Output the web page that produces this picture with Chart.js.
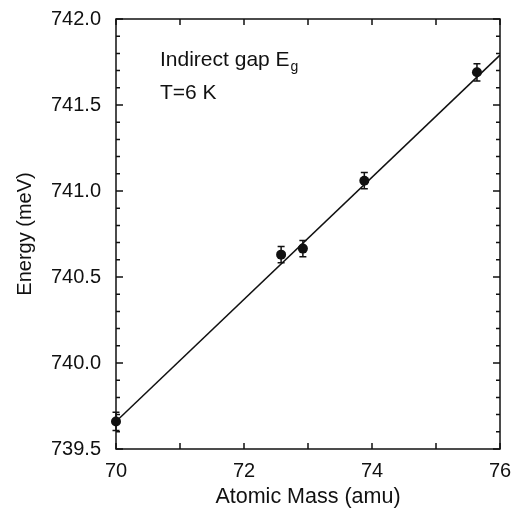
<!DOCTYPE html>
<html>
<head>
<meta charset="utf-8">
<script src="https://cdn.jsdelivr.net/npm/chart.js@4.4.0/dist/chart.umd.min.js"></script>
<style>
  html, body { margin: 0; padding: 0; background: #fff; }
  canvas { display: block; }
</style>
</head>
<body>
<canvas id="chart" width="514" height="508"></canvas>
<script>
// measured band-gap energies vs. isotope mass
var masses = [70.0, 72.58, 72.92, 73.88, 75.64];
var energies = [739.66, 740.63, 740.665, 741.06, 741.69];
var errors = [0.053, 0.047, 0.047, 0.047, 0.05];

// linear fit through the points
var fitMass = [70, 76];
var fitEnergy = [739.66, 741.79];

// axes
var xTicks = [70, 72, 74, 76];
var xMinor = [71, 73, 75];
var yTicks = [739.5, 740.0, 740.5, 741.0, 741.5, 742.0];
var yMinor = [739.6, 739.7, 739.8, 739.9, 740.1, 740.2, 740.3, 740.4,
              740.6, 740.7, 740.8, 740.9, 741.1, 741.2, 741.3, 741.4,
              741.6, 741.7, 741.8, 741.9];

var FONT = "'Liberation Sans', Arial, Helvetica, sans-serif";

function toPoints(xs, ys) {
    return xs.map(function (x, i) { return { x: x, y: ys[i] }; });
}

// frame with inward ticks on all four sides
var framePlugin = {
    id: "frame",
    afterDraw: function (chart) {
        var ctx = chart.ctx, a = chart.chartArea;
        var xs = chart.scales.x, ys = chart.scales.y;
        ctx.save();
        ctx.strokeStyle = "#111";
        ctx.lineWidth = 1.5;
        ctx.strokeRect(a.left, a.top, a.right - a.left, a.bottom - a.top);

        ctx.beginPath();
        function xTick(v, len) {
            var px = xs.getPixelForValue(v);
            ctx.moveTo(px, a.bottom); ctx.lineTo(px, a.bottom - len);
            ctx.moveTo(px, a.top); ctx.lineTo(px, a.top + len);
        }
        function yTick(v, len) {
            var py = ys.getPixelForValue(v);
            ctx.moveTo(a.left, py); ctx.lineTo(a.left + len, py);
            ctx.moveTo(a.right, py); ctx.lineTo(a.right - len, py);
        }
        xTicks.forEach(function (v) { xTick(v, 6); });
        xMinor.forEach(function (v) { xTick(v, 6); });
        yTicks.forEach(function (v) { yTick(v, 7); });
        yMinor.forEach(function (v) { yTick(v, 4); });
        ctx.stroke();
        ctx.restore();
    }
};

// vertical error bars with short caps
var errorBarPlugin = {
    id: "errorBars",
    afterDatasetsDraw: function (chart) {
        var ctx = chart.ctx;
        var xs = chart.scales.x, ys = chart.scales.y;
        ctx.save();
        ctx.strokeStyle = "#111";
        ctx.lineWidth = 1.5;
        ctx.beginPath();
        masses.forEach(function (m, i) {
            var px = xs.getPixelForValue(m);
            var lo = ys.getPixelForValue(energies[i] - errors[i]);
            var hi = ys.getPixelForValue(energies[i] + errors[i]);
            ctx.moveTo(px, lo); ctx.lineTo(px, hi);
            ctx.moveTo(px - 3.5, lo); ctx.lineTo(px + 3.5, lo);
            ctx.moveTo(px - 3.5, hi); ctx.lineTo(px + 3.5, hi);
        });
        ctx.stroke();
        ctx.restore();
    }
};

// "Indirect gap E_g" / "T=6 K" labels in the upper left
var notePlugin = {
    id: "note",
    afterDraw: function (chart) {
        var ctx = chart.ctx, a = chart.chartArea;
        var x = a.left + 44;
        ctx.save();
        ctx.fillStyle = "#111";
        ctx.textBaseline = "alphabetic";
        ctx.font = "21px " + FONT;
        var head = "Indirect gap E";
        ctx.fillText(head, x, a.top + 47);
        var w = ctx.measureText(head).width;
        ctx.font = "14px " + FONT;
        ctx.fillText("g", x + w + 1, a.top + 52);
        ctx.font = "21px " + FONT;
        ctx.fillText("T=6 K", x, a.top + 80);
        ctx.restore();
    }
};

new Chart(document.getElementById("chart"), {
    type: "scatter",
    data: {
        datasets: [
            {
                label: "fit",
                data: toPoints(fitMass, fitEnergy),
                showLine: true,
                borderColor: "#111",
                borderWidth: 1.5,
                pointRadius: 0,
                fill: false,
            },
            {
                label: "Eg",
                data: toPoints(masses, energies),
                backgroundColor: "#111",
                borderColor: "#111",
                pointRadius: 5,
                pointBorderWidth: 0,
                clip: false,
            },
        ],
    },
    options: {
        responsive: false,
        animation: false,
        devicePixelRatio: 1,
        layout: { padding: { top: 19, right: 14, left: 0, bottom: 0 } },
        plugins: {
            legend: { display: false },
            tooltip: { enabled: false },
        },
        scales: {
            x: {
                type: "linear",
                min: 70,
                max: 76,
                grid: { display: false },
                border: { display: false },
                afterBuildTicks: function (scale) {
                    scale.ticks = xTicks.map(function (v) { return { value: v }; });
                },
                afterFit: function (scale) { scale.height = 59; },
                ticks: {
                    color: "#111",
                    padding: 2,
                    font: { family: FONT, size: 20 },
                    callback: function (v) { return String(v); },
                },
                title: {
                    display: true,
                    text: "Atomic Mass (amu)",
                    color: "#111",
                    padding: 0,
                    font: { family: FONT, size: 21.5, lineHeight: 1 },
                },
            },
            y: {
                type: "linear",
                min: 739.5,
                max: 742.0,
                grid: { display: false },
                border: { display: false },
                afterBuildTicks: function (scale) {
                    scale.ticks = yTicks.map(function (v) { return { value: v }; });
                },
                afterFit: function (scale) { scale.width = 116; },
                ticks: {
                    color: "#111",
                    padding: 7,
                    font: { family: FONT, size: 20 },
                    callback: function (v) { return Number(v).toFixed(1); },
                },
                title: {
                    display: true,
                    text: "Energy (meV)",
                    color: "#111",
                    padding: { top: 15, bottom: 0 },
                    font: { family: FONT, size: 20, lineHeight: 1 },
                },
            },
        },
    },
    plugins: [framePlugin, errorBarPlugin, notePlugin],
});
</script>
</body>
</html>
